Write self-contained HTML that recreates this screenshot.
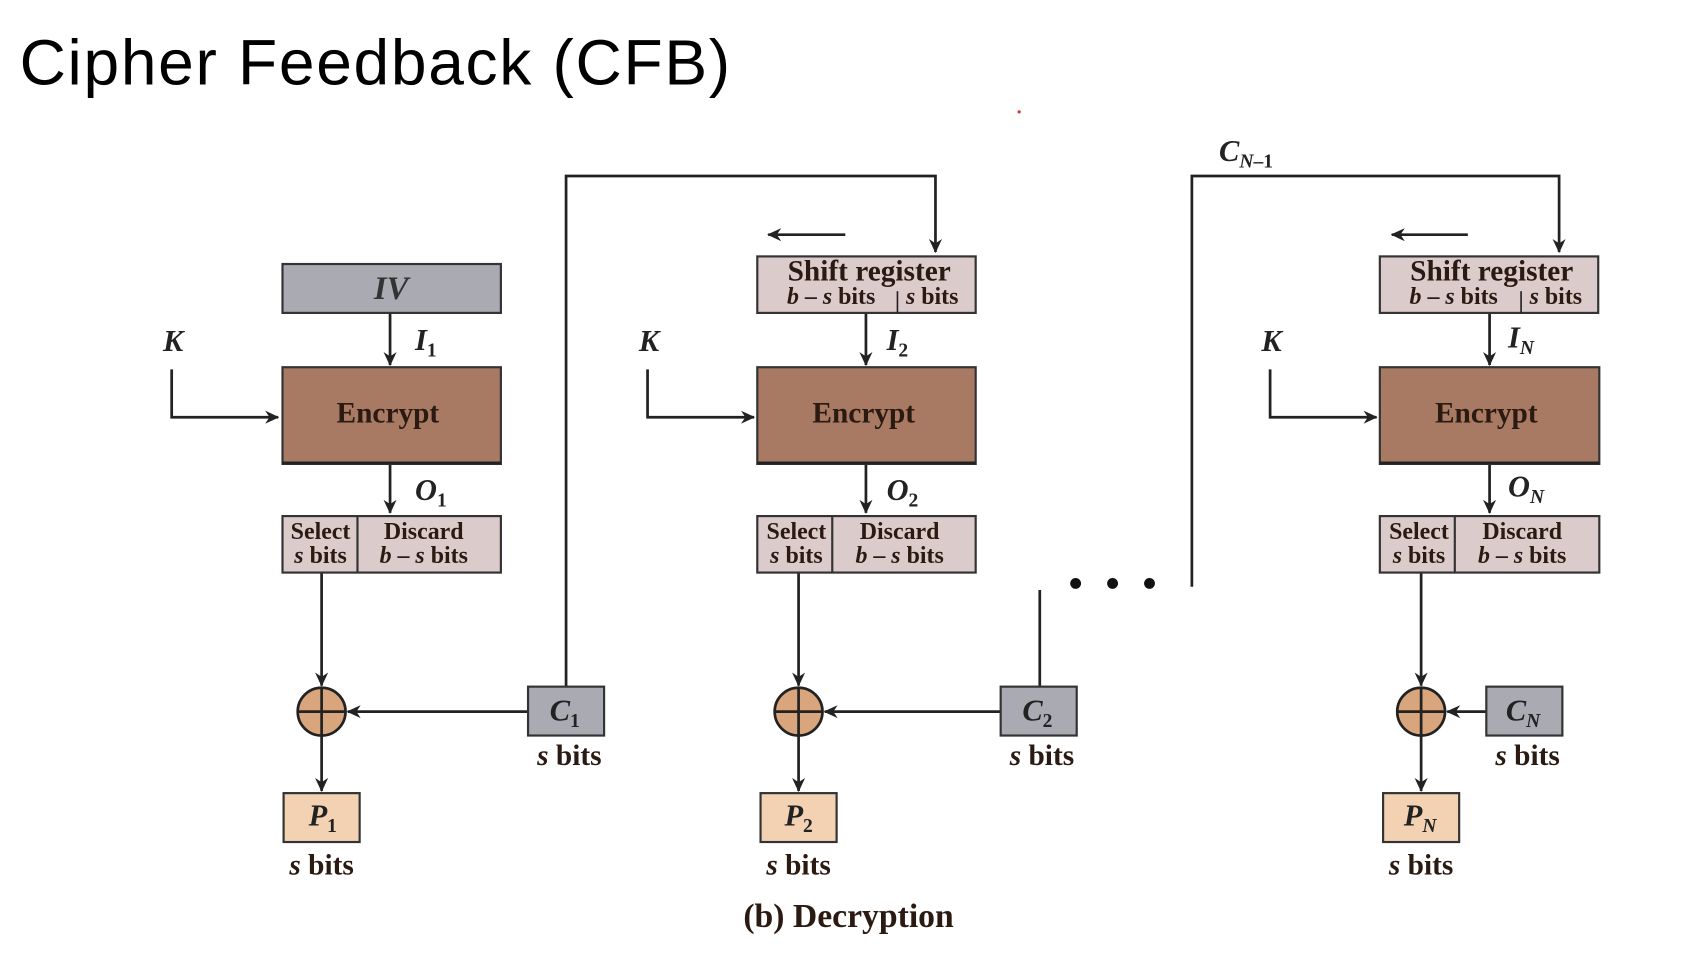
<!DOCTYPE html>
<html><head><meta charset="utf-8"><style>
html,body{margin:0;padding:0;background:#fff;}
svg{display:block;}
.t{font-family:"Liberation Serif",serif;font-weight:bold;fill:#2a1a12;}
</style></head><body>
<svg width="1702" height="980" viewBox="0 0 1566.5 902" xmlns="http://www.w3.org/2000/svg">
<defs>
<marker id="a" markerWidth="13" markerHeight="12" refX="12" refY="6" orient="auto" markerUnits="userSpaceOnUse" viewBox="0 0 13 12">
<path d="M0,0 L13,6 L0,12 L4,6 Z" fill="#222"/></marker>
</defs>
<text x="18" y="78" font-family="Liberation Sans, sans-serif" font-size="59" fill="#000" textLength="654">Cipher Feedback (CFB)</text>
<circle cx="938" cy="103" r="1.5" fill="#d33"/>

<g stroke="#222" stroke-width="2.5" fill="none">
<polyline points="521,632 521,162 861,162 861,232" marker-end="url(#a)"/>
<polyline points="1097,540 1097,162 1435,162 1435,232" marker-end="url(#a)"/>
<line x1="957" y1="632" x2="957" y2="543"/>
<line x1="778" y1="216" x2="707" y2="216" marker-end="url(#a)"/>
<line x1="1351" y1="216" x2="1281" y2="216" marker-end="url(#a)"/>
<polyline points="158,340 158,384 256,384" marker-end="url(#a)"/>
<polyline points="596,340 596,384 694,384" marker-end="url(#a)"/>
<polyline points="1169,340 1169,384 1267,384" marker-end="url(#a)"/>
<line x1="359" y1="288" x2="359" y2="336" marker-end="url(#a)"/>
<line x1="797" y1="288" x2="797" y2="336" marker-end="url(#a)"/>
<line x1="1371" y1="288" x2="1371" y2="336" marker-end="url(#a)"/>
<line x1="359" y1="427" x2="359" y2="472" marker-end="url(#a)"/>
<line x1="797" y1="427" x2="797" y2="472" marker-end="url(#a)"/>
<line x1="1371" y1="427" x2="1371" y2="472" marker-end="url(#a)"/>
<line x1="296" y1="527" x2="296" y2="631" marker-end="url(#a)"/>
<line x1="735" y1="527" x2="735" y2="631" marker-end="url(#a)"/>
<line x1="1308" y1="527" x2="1308" y2="631" marker-end="url(#a)"/>
<line x1="296" y1="677" x2="296" y2="728" marker-end="url(#a)"/>
<line x1="735" y1="677" x2="735" y2="728" marker-end="url(#a)"/>
<line x1="1308" y1="677" x2="1308" y2="728" marker-end="url(#a)"/>
<line x1="486" y1="655" x2="320" y2="655" marker-end="url(#a)"/>
<line x1="921" y1="655" x2="759" y2="655" marker-end="url(#a)"/>
<line x1="1368" y1="655" x2="1332" y2="655" marker-end="url(#a)"/>
</g>

<g stroke="#333" stroke-width="2">
<rect x="260" y="243" width="201" height="45" fill="#a9aab2"/>
<rect x="697" y="236" width="201" height="52" fill="#dccbcb"/>
<rect x="1270" y="236" width="201" height="52" fill="#dccbcb"/>
<rect x="260" y="338" width="201" height="89" fill="#a87a63"/>
<rect x="697" y="338" width="201" height="89" fill="#a87a63"/>
<rect x="1270" y="338" width="202" height="89" fill="#a87a63"/>
<rect x="260" y="475" width="201" height="52" fill="#dccbcb"/>
<rect x="697" y="475" width="201" height="52" fill="#dccbcb"/>
<rect x="1270" y="475" width="202" height="52" fill="#dccbcb"/>
<line x1="329" y1="475" x2="329" y2="527"/>
<line x1="766" y1="475" x2="766" y2="527"/>
<line x1="1339" y1="475" x2="1339" y2="527"/>
<rect x="486" y="632" width="70" height="45" fill="#a9aab2"/>
<rect x="921" y="632" width="70" height="45" fill="#a9aab2"/>
<rect x="1368" y="632" width="70" height="45" fill="#a9aab2"/>
<rect x="261" y="730" width="70" height="45" fill="#f3d2b4"/>
<rect x="700" y="730" width="70" height="45" fill="#f3d2b4"/>
<rect x="1273" y="730" width="70" height="45" fill="#f3d2b4"/>
</g>
<g stroke="#222" stroke-width="2.5">
<line x1="260" y1="426" x2="461" y2="426"/>
<line x1="697" y1="426" x2="898" y2="426"/>
<line x1="1270" y1="426" x2="1472" y2="426"/>
<line x1="826" y1="268" x2="826" y2="288" stroke-width="1.5"/>
<line x1="1400" y1="268" x2="1400" y2="288" stroke-width="1.5"/>
</g>
<g stroke="#222" stroke-width="2.5" fill="#d9a57c">
<circle cx="296" cy="655" r="22"/><circle cx="735" cy="655" r="22"/><circle cx="1308" cy="655" r="22"/>
<path d="M274,655 H318 M296,633 V677 M713,655 H757 M735,633 V677 M1286,655 H1330 M1308,633 V677" fill="none"/>
</g>
<g fill="#111"><circle cx="990" cy="537" r="5"/><circle cx="1024" cy="537" r="5"/><circle cx="1058" cy="537" r="5"/></g>

<g class="t">
<text x="360" y="275" font-size="30" font-style="italic" text-anchor="middle" fill="#333">IV</text>
<g font-size="27" text-anchor="middle">
<text x="357" y="389">Encrypt</text><text x="795" y="389">Encrypt</text><text x="1368" y="389">Encrypt</text>
<text x="800" y="258">Shift register</text><text x="1373" y="258">Shift register</text>
</g>
<g font-size="22" text-anchor="middle">
<text x="765" y="280"><tspan font-style="italic">b</tspan> – <tspan font-style="italic">s</tspan> bits</text>
<text x="858" y="280"><tspan font-style="italic">s</tspan> bits</text>
<text x="1338" y="280"><tspan font-style="italic">b</tspan> – <tspan font-style="italic">s</tspan> bits</text>
<text x="1432" y="280"><tspan font-style="italic">s</tspan> bits</text>
<text x="295" y="496">Select</text><text x="295" y="518"><tspan font-style="italic">s</tspan> bits</text>
<text x="390" y="496">Discard</text><text x="390" y="518"><tspan font-style="italic">b</tspan> – <tspan font-style="italic">s</tspan> bits</text>
<text x="733" y="496">Select</text><text x="733" y="518"><tspan font-style="italic">s</tspan> bits</text>
<text x="828" y="496">Discard</text><text x="828" y="518"><tspan font-style="italic">b</tspan> – <tspan font-style="italic">s</tspan> bits</text>
<text x="1306" y="496">Select</text><text x="1306" y="518"><tspan font-style="italic">s</tspan> bits</text>
<text x="1401" y="496">Discard</text><text x="1401" y="518"><tspan font-style="italic">b</tspan> – <tspan font-style="italic">s</tspan> bits</text>
</g>
<g font-size="27" text-anchor="middle">
<text x="524" y="704"><tspan font-style="italic">s</tspan> bits</text>
<text x="959" y="704"><tspan font-style="italic">s</tspan> bits</text>
<text x="1406" y="704"><tspan font-style="italic">s</tspan> bits</text>
<text x="296" y="805"><tspan font-style="italic">s</tspan> bits</text>
<text x="735" y="805"><tspan font-style="italic">s</tspan> bits</text>
<text x="1308" y="805"><tspan font-style="italic">s</tspan> bits</text>
<text x="781" y="853" font-size="31">(b) Decryption</text>
</g>
<g font-size="28" font-style="italic" fill="#222">
<text x="150" y="323">K</text><text x="588" y="323">K</text><text x="1161" y="323">K</text>
<text x="382" y="322">I<tspan font-size="18" font-style="normal" dy="6">1</tspan></text>
<text x="816" y="322">I<tspan font-size="18" font-style="normal" dy="6">2</tspan></text>
<text x="1388" y="320">I<tspan font-size="18" dy="6">N</tspan></text>
<text x="382" y="460">O<tspan font-size="18" font-style="normal" dy="6">1</tspan></text>
<text x="816" y="460">O<tspan font-size="18" font-style="normal" dy="6">2</tspan></text>
<text x="1388" y="457">O<tspan font-size="18" dy="6">N</tspan></text>
<text x="506" y="663">C<tspan font-size="18" font-style="normal" dy="6">1</tspan></text>
<text x="941" y="663">C<tspan font-size="18" font-style="normal" dy="6">2</tspan></text>
<text x="1386" y="663">C<tspan font-size="18" dy="6">N</tspan></text>
<text x="284" y="760">P<tspan font-size="18" font-style="normal" dy="6">1</tspan></text>
<text x="722" y="760">P<tspan font-size="18" font-style="normal" dy="6">2</tspan></text>
<text x="1292" y="760">P<tspan font-size="18" dy="6">N</tspan></text>
<text x="1122" y="148">C<tspan font-size="18" dy="6">N</tspan><tspan font-size="18" font-style="normal">–1</tspan></text>
</g>
</g>
</svg>
</body></html>
